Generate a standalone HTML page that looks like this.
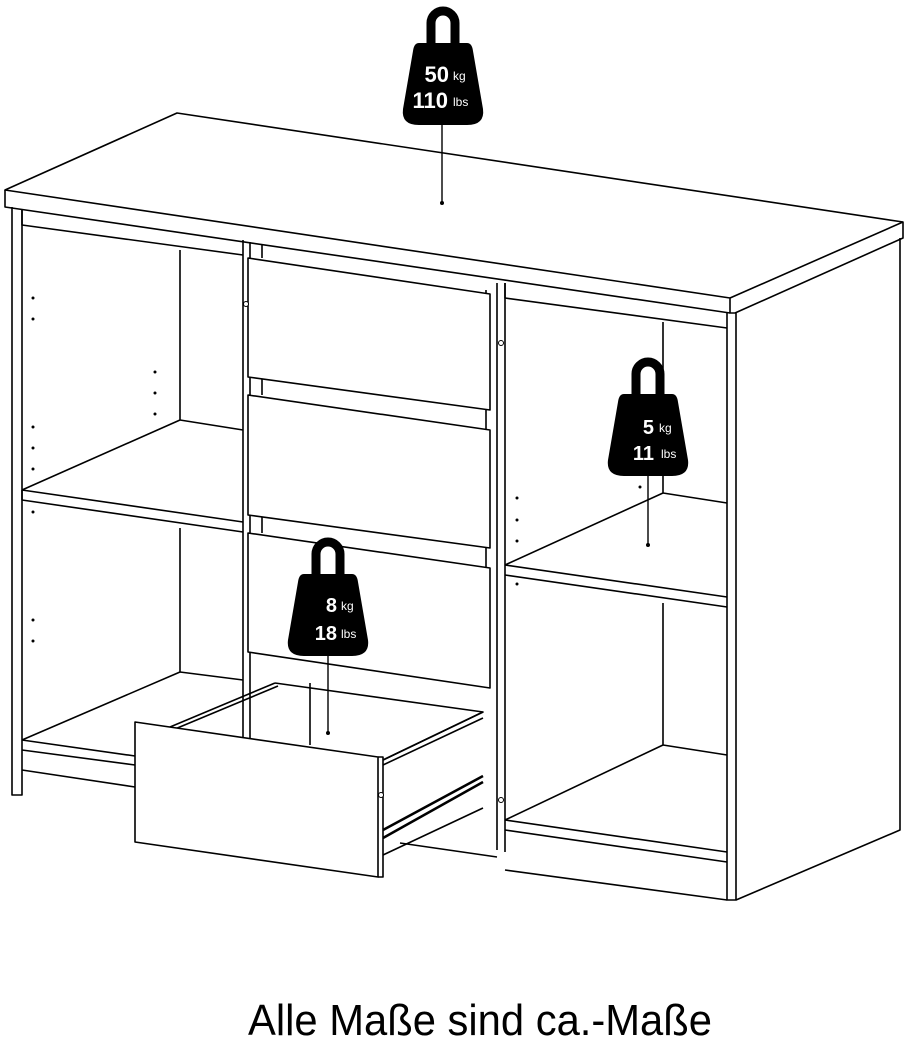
<!DOCTYPE html>
<html><head><meta charset="utf-8"><style>
html,body{margin:0;padding:0;background:#fff;}
svg{display:block;}
</style></head><body>
<svg width="905" height="1046" viewBox="0 0 905 1046" xmlns="http://www.w3.org/2000/svg">
<defs>
<g id="wt">
<path d="M -12 46 V 20 A 12 12 0 0 1 12 20 V 46" fill="none" stroke="#000" stroke-width="9"/>
<path d="M -24 40 Q -29 40 -30 48 L -40 106 Q -42 122 -24 122 L 24 122 Q 42 122 40 106 L 30 48 Q 29 40 24 40 Z" fill="#000"/>
</g>
</defs>
<g fill="none" stroke="#000" stroke-width="1.6" stroke-linejoin="round">
<!-- top -->
<path d="M5 190 L177 113 L903 222 L903 238 L735 313 L730 313 L730 298 L5 190 Z"/>
<path d="M5 190 L5 207 L730 313"/>
<path d="M730 298 L903 222"/>
<!-- left side panel -->
<path d="M12 207 V795 H22 V210"/>
<!-- right side -->
<path d="M727 313 V900 H736 V313"/>
<path d="M736 900 L900 830 V238"/>
<!-- top rails -->
<path d="M22 210 V225 L243 255"/>
<path d="M505 283 V298 L727 328"/>
<!-- left divider -->
<path d="M243 240 V800 M250 242 V805"/>
<path d="M262 245 V258 M262 377 V395 M262 515 V533"/>
<!-- right divider -->
<path d="M497 283 V850 M505 283 V852"/>
<path d="M486 290 V297 M486 410 V430 M486 548 V568"/>
<!-- drawers -->
<path d="M248 258 L490 294 V410 L248 377 Z" fill="#fff"/>
<path d="M248 395 L490 430 V548 L248 515 Z" fill="#fff"/>
<path d="M248 533 L490 568 V688 L248 652 Z" fill="#fff"/>
<!-- left compartment -->
<path d="M180 250 V420 M180 420 L243 430 M22 490 L180 420"/>
<path d="M22 490 L243 522 M22 500 L243 532 M22 490 V500"/>
<path d="M180 528 V672 M180 672 L243 680 M22 740 L180 672"/>
<path d="M22 740 L135 756 M22 750 L135 765 M22 770 L135 787"/>
<!-- middle plinth -->
<path d="M400 843 L497 857"/>
<!-- open drawer -->
<path d="M170 727 L275 683 M175 729 L278 686 M275 683 L483 712 L383 760" fill="#fff"/>
<path d="M310 683 V745"/>
<path d="M383 760 L483 712 M383 765 L483 718 M383 855 L483 808"/>
<path d="M383 838 L483 782 M383 830 L483 776" stroke-width="2.5"/>
<path d="M135 722 L378 757 V877 L135 842 Z" fill="#fff"/>
<path d="M378 757 L383 757 V877 L378 877"/>
<!-- right compartment -->
<path d="M663 322 V493 M663 493 L727 503 M505 565 L663 493"/>
<path d="M505 565 L727 597 M505 575 L727 607"/>
<path d="M663 603 V745 M663 745 L727 755 M505 820 L663 745"/>
<path d="M505 820 L727 852 M505 830 L727 862 M505 870 L727 900"/>
</g>
<!-- holes -->
<g fill="#000">
<circle cx="33" cy="298" r="1.5"/><circle cx="33" cy="319" r="1.5"/>
<circle cx="155" cy="372" r="1.5"/><circle cx="155" cy="393" r="1.5"/><circle cx="155" cy="414" r="1.5"/>
<circle cx="33" cy="427" r="1.5"/><circle cx="33" cy="448" r="1.5"/><circle cx="33" cy="469" r="1.5"/>
<circle cx="33" cy="512" r="1.5"/><circle cx="33" cy="620" r="1.5"/><circle cx="33" cy="641" r="1.5"/>
<circle cx="517" cy="498" r="1.5"/><circle cx="517" cy="520" r="1.5"/><circle cx="517" cy="541" r="1.5"/>
<circle cx="517" cy="584" r="1.5"/><circle cx="640" cy="487" r="1.5"/>
</g>
<g fill="#fff" stroke="#000" stroke-width="1">
<circle cx="246" cy="304" r="2.5"/><circle cx="501" cy="343" r="2.5"/><circle cx="501" cy="800" r="2.5"/><circle cx="381" cy="795" r="2.5"/>
</g>
<!-- weights -->
<g stroke="#000" stroke-width="1.4">
<line x1="442" y1="124" x2="442" y2="203"/>
<line x1="648" y1="475" x2="648" y2="545"/>
<line x1="328" y1="655" x2="328" y2="733"/>
</g>
<g fill="#000"><circle cx="442" cy="203" r="2"/><circle cx="648" cy="545" r="2"/><circle cx="328" cy="733" r="2"/></g>
<use href="#wt" transform="translate(443,3)"/>
<use href="#wt" transform="translate(648,354)"/>
<use href="#wt" transform="translate(328,534)"/>
<g fill="#fff" font-family="Liberation Sans, sans-serif" font-weight="bold">
<text x="449" y="82" font-size="22" text-anchor="end">50</text><text x="453" y="80" font-size="12" font-weight="normal">kg</text>
<text x="448" y="108" font-size="22" text-anchor="end">110</text><text x="453" y="106" font-size="12" font-weight="normal">lbs</text>
<text x="654" y="434" font-size="20" text-anchor="end">5</text><text x="659" y="432" font-size="12" font-weight="normal">kg</text>
<text x="654" y="460" font-size="20" text-anchor="end">11</text><text x="661" y="458" font-size="12" font-weight="normal">lbs</text>
<text x="337" y="612" font-size="20" text-anchor="end">8</text><text x="341" y="610" font-size="12" font-weight="normal">kg</text>
<text x="337" y="640" font-size="20" text-anchor="end">18</text><text x="341" y="638" font-size="12" font-weight="normal">lbs</text>
</g>
<text x="248" y="1035" font-family="Liberation Sans, sans-serif" font-size="44" textLength="464" lengthAdjust="spacingAndGlyphs" fill="#000">Alle Maße sind ca.-Maße</text>
</svg>
</body></html>
